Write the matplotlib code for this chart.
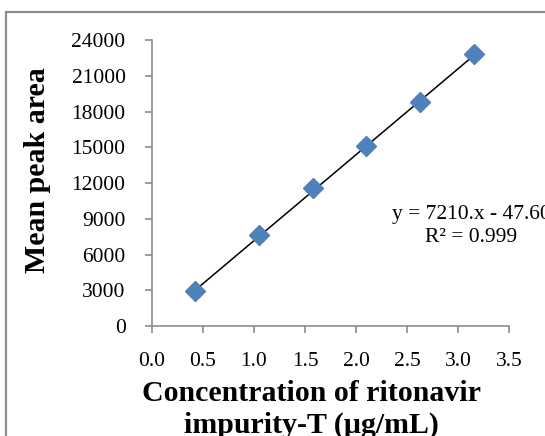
import matplotlib.pyplot as plt
import numpy as np
from matplotlib.patches import Rectangle

# calibration data
conc = [0.42, 1.05, 1.58, 2.10, 2.63, 3.16]
area = [2900, 7600, 11550, 15100, 18800, 22850]
xticks = [0.0, 0.5, 1.0, 1.5, 2.0, 2.5, 3.0, 3.5]
yticks = [0, 3000, 6000, 9000, 12000, 15000, 18000, 21000, 24000]
slope, icpt = 7210, -47.60

plt.rcParams['font.family'] = ['Liberation Serif', 'DejaVu Serif']

fig = plt.figure(figsize=(5.45, 4.36), dpi=100)
# outer chart frame (runs off the right/bottom edge like the source)
fig.patches.append(Rectangle((6/545, -0.05), 1.0, 1 - 12/436 + 0.05,
                             transform=fig.transFigure, fill=False,
                             edgecolor='#8c8c8c', linewidth=1.6))

ax = fig.add_axes([152/545, 1 - 326/436, (509 - 152)/545, (326 - 40)/436])

xfit = np.array([conc[0], conc[-1]])
ax.plot(xfit, slope * xfit + icpt, color='black', lw=1.1, zorder=2)
ax.plot(conc, area, 'D', color='#4f81bd', markersize=10.5, zorder=3)

ax.set_xlim(0, 3.5)
ax.set_ylim(0, 24000)
ax.set_xticks(xticks)
ax.set_yticks(yticks)
ax.set_xticklabels([f'{v:.1f}' for v in xticks])
ax.set_yticklabels([str(v) for v in yticks])

for s in ['top', 'right']:
    ax.spines[s].set_visible(False)
for s in ['left', 'bottom']:
    ax.spines[s].set_color('#8c8c8c')
    ax.spines[s].set_linewidth(1.2)
ax.tick_params(axis='both', colors='#8c8c8c', labelcolor='black',
               labelsize=15.5, length=5, width=1.2)
ax.tick_params(axis='x', pad=14)
ax.tick_params(axis='y', pad=14)

ax.set_xlabel('Concentration of ritonavir\nimpurity-T (µg/mL)',
              fontsize=21.5, fontweight='bold', linespacing=1.2)
ax.xaxis.set_label_coords(0.448, -0.19)
ax.set_ylabel('Mean peak area', fontsize=21.5, fontweight='bold')
ax.yaxis.set_label_coords(-0.322, 0.545)
ax.yaxis.label.set_va('center')

# trendline label, clipped at the right edge as in the source
fig.text(471/545, 1 - 214/436, 'y = 7210.x - 47.60', ha='center', va='center',
         fontsize=15.5)
fig.text(471/545, 1 - 238/436, 'R² = 0.999', ha='center', va='center',
         fontsize=15.5)

fig.savefig('out.png', dpi=100)
